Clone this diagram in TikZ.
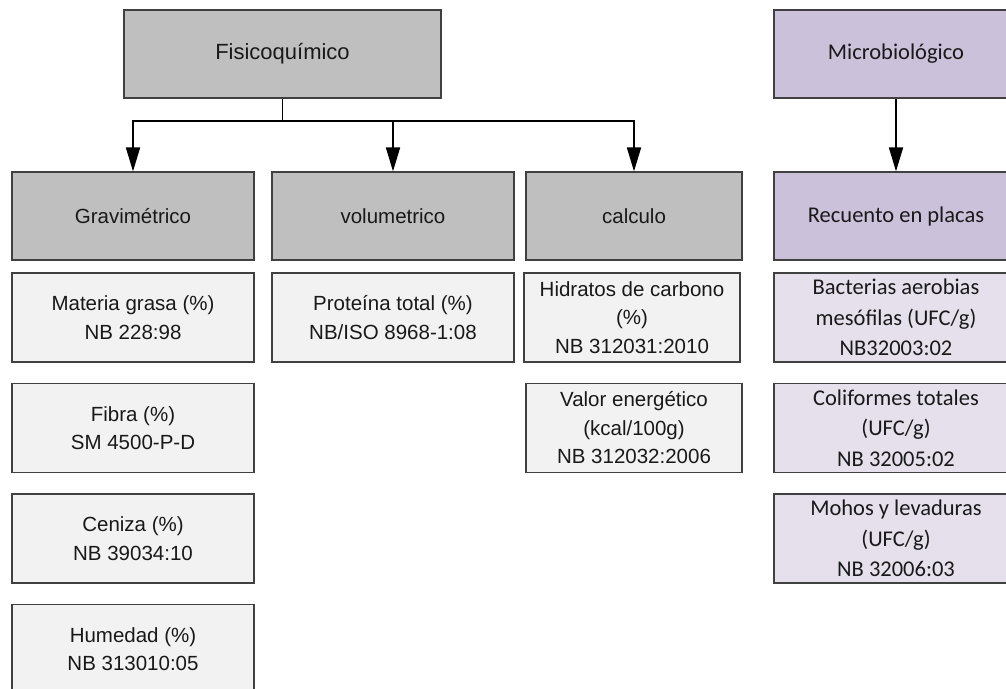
\documentclass[tikz,border=0pt]{standalone}
\usepackage{fontspec}
\usetikzlibrary{arrows.meta}
\newfontfamily\arialf{Liberation Sans}
\newfontfamily\calibf{Carlito}
\definecolor{grayhead}{HTML}{BFBFBF}
\definecolor{graylight}{HTML}{F2F2F2}
\definecolor{purplehead}{HTML}{CCC1DA}
\definecolor{purplelight}{HTML}{E5E0EC}
\definecolor{edge}{HTML}{404040}
\tikzset{
  basebox/.style={draw=edge, line width=1.2pt, rectangle, inner sep=0pt,
    align=center, text=black!90},
  gbox/.style={basebox, fill=grayhead, minimum height=88pt,
    font=\arialf\fontsize{20.5}{28.5}\selectfont},
  gitem/.style={basebox, fill=graylight, minimum height=89pt,
    font=\arialf\fontsize{20.5}{28.5}\selectfont},
  pbox/.style={basebox, fill=purplehead, minimum height=88pt,
    font=\calibf\fontsize{22.5}{30.5}\selectfont},
  pitem/.style={basebox, fill=purplelight, minimum height=89pt,
    font=\calibf\fontsize{22.5}{30.5}\selectfont},
  conn/.style={line width=1.8pt, black},
  arrowconn/.style={conn, -{Triangle[length=24pt, width=14pt]}}
}
\begin{document}
\begin{tikzpicture}[x=1pt, y=-1pt]
\useasboundingbox (0,0) rectangle (1006,688);
\clip (0,0) rectangle (1006,688);

% top-level categories
\node[gbox, minimum width=317pt, font=\arialf\fontsize{22}{28}\selectfont] (fisico) at (282.5,54) {Fisicoquímico};
\node[pbox, minimum width=244pt] (micro) at (896,54) {Microbiológico};

% methods
\node[gbox, minimum width=242pt] (grav) at (133,216) {Gravimétrico};
\node[gbox, minimum width=242pt] (vol)  at (393,216) {volumetrico};
\node[gbox, minimum width=216pt] (calc) at (634,216) {calculo};
\node[pbox, minimum width=244pt] (recu) at (896,216) {Recuento en placas};

% gravimetric parameters
\node[gitem, minimum width=242pt] (grasa)   at (133,317.5) {Materia grasa (\%)\\NB 228:98};
\node[gitem, minimum width=242pt] (fibra)   at (133,428)   {Fibra (\%)\\SM 4500-P-D};
\node[gitem, minimum width=242pt] (ceniza)  at (133,538.5) {Ceniza (\%)\\NB 39034:10};
\node[gitem, minimum width=242pt] (humedad) at (133,649)   {Humedad (\%)\\NB 313010:05};

% volumetric parameter
\node[gitem, minimum width=242pt] (proteina) at (393,317.5) {Proteína total (\%)\\NB/ISO 8968-1:08};

% calculated parameters
\node[gitem, minimum width=216pt] (hidratos) at (632,317.5) {Hidratos de carbono\\(\%)\\NB 312031:2010};
\node[gitem, minimum width=216pt] (energia)  at (634,428)   {Valor energético\\(kcal/100g)\\NB 312032:2006};

% plate counts
\node[pitem, minimum width=244pt] (aerobias)   at (896,317.5) {Bacterias aerobias\\mesófilas (UFC/g)\\NB32003:02};
\node[pitem, minimum width=244pt] (coliformes) at (896,428)   {Coliformes totales\\(UFC/g)\\NB 32005:02};
\node[pitem, minimum width=244pt] (mohos)      at (896,538.5) {Mohos y levaduras\\(UFC/g)\\NB 32006:03};

% connectors
\coordinate (bus) at (282.5,121);
\draw[conn] (fisico.south) -- (bus);
\draw[arrowconn] (bus) -| (grav.north);
\draw[arrowconn] (bus) -| (vol.north);
\draw[arrowconn] (bus) -| (calc.north);
\draw[arrowconn] (micro.south) -- (recu.north);
\end{tikzpicture}
\end{document}
